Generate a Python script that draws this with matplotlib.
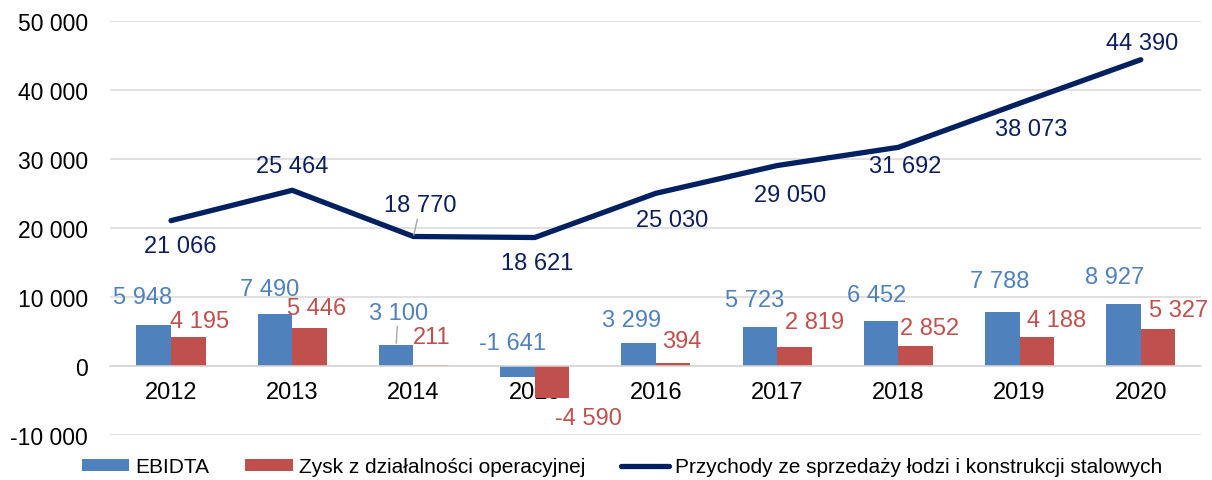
import matplotlib
matplotlib.use("Agg")
import matplotlib.pyplot as plt
import numpy as np

plt.rcParams['font.family'] = ['Liberation Sans', 'DejaVu Sans']

years = ["2012", "2013", "2014", "2015", "2016", "2017", "2018", "2019", "2020"]
ebitda = [5948, 7490, 3100, -1641, 3299, 5723, 6452, 7788, 8927]
zysk = [4195, 5446, 211, -4590, 394, 2819, 2852, 4188, 5327]
przychody = [21066, 25464, 18770, 18621, 25030, 29050, 31692, 38073, 44390]

series_names = ["EBIDTA", "Zysk z działalności operacyjnej",
                "Przychody ze sprzedaży łodzi i konstrukcji stalowych"]
yticks = [-10000, 0, 10000, 20000, 30000, 40000, 50000]

BLUE = "#4F81BD"
RED = "#C0504D"
NAVY = "#002060"
GRID = "#D9D9D9"

# label offsets in pixels (dx, dy; dy positive = up)
line_off = [(9, -25), (0, 24), (7, 31), (3, -25), (16, -27), (13, -29), (7, -19), (12, -26), (1, 17)]
eb_off = [(-11, 28), (-5, 25), (2, 32), (-5, 23), (-7, 23), (-5, 27), (-4, 26), (-3, 31), (-9, 27)]
zy_off = [(11, 16), (7, 20), (1, 28), (36, -20), (9, 22), (20, 25), (14, 18), (20, 17), (21, 19)]


def fmt(v):
    return f"{v:,}".replace(",", " ")


W, H = 1212, 481
fig = plt.figure(figsize=(W / 100, H / 100), dpi=100)
ax = fig.add_axes([110.4 / W, 1 - 436 / H, 1091 / W, (436 - 22) / H])

x = np.arange(len(years))
bw = 0.285
b1 = ax.bar(x - bw / 2, ebitda, bw, color=BLUE, label=series_names[0], zorder=2)
b2 = ax.bar(x + bw / 2, zysk, bw, color=RED, label=series_names[1], zorder=2)
l1, = ax.plot(x, przychody, color=NAVY, lw=3.8, solid_capstyle='round',
              solid_joinstyle='round', label=series_names[2], zorder=3)

ax.set_xlim(-0.5, len(years) - 0.5)
ax.set_ylim(-10000, 50000)
ax.set_yticks(yticks)
ax.set_yticklabels([fmt(v) for v in yticks])
ax.yaxis.grid(True, color=GRID, lw=1.1, zorder=0)
ax.set_axisbelow(True)
for s in ["top", "right", "left"]:
    ax.spines[s].set_visible(False)
ax.spines["bottom"].set_position(("data", 0))
ax.spines["bottom"].set_color(GRID)
ax.spines["bottom"].set_linewidth(1.1)
ax.set_xticks(x)
ax.set_xticklabels(years)
ax.tick_params(axis="x", length=0, pad=11, labelsize=17)
ax.tick_params(axis="y", length=0, pad=16, labelsize=16.5)

leader = dict(arrowstyle="-", color="#A6A6A6", lw=1.0, shrinkA=0, shrinkB=1)

for i, v in enumerate(przychody):
    dx, dy = line_off[i]
    kw = {}
    if i == 2:
        kw = dict(arrowprops=leader)
    ax.annotate(fmt(v), (x[i], v), xytext=(dx, dy), textcoords="offset pixels",
                ha="center", va="center", fontsize=17, color="#0D1F5C", zorder=5, **kw)

for i, v in enumerate(ebitda):
    dx, dy = eb_off[i]
    kw = {}
    if i == 2:
        kw = dict(arrowprops=leader)
    ax.annotate(fmt(v), (x[i] - bw / 2, max(v, 0)), xytext=(dx, dy), textcoords="offset pixels",
                ha="center", va="center", fontsize=17, color=BLUE, zorder=5, **kw)

for i, v in enumerate(zysk):
    dx, dy = zy_off[i]
    ax.annotate(fmt(v), (x[i] + bw / 2, v), xytext=(dx, dy), textcoords="offset pixels",
                ha="center", va="center", fontsize=17, color=RED, zorder=5)

fig.legend(handles=[b1, b2, l1], labels=series_names,
           loc="center", bbox_to_anchor=(622 / W, 1 - 468 / H), ncol=3, frameon=False,
           fontsize=15, handlelength=2.3, handleheight=0.55, handletextpad=0.3,
           columnspacing=1.7, borderpad=0, borderaxespad=0)

fig.savefig("out.png", dpi=100)
